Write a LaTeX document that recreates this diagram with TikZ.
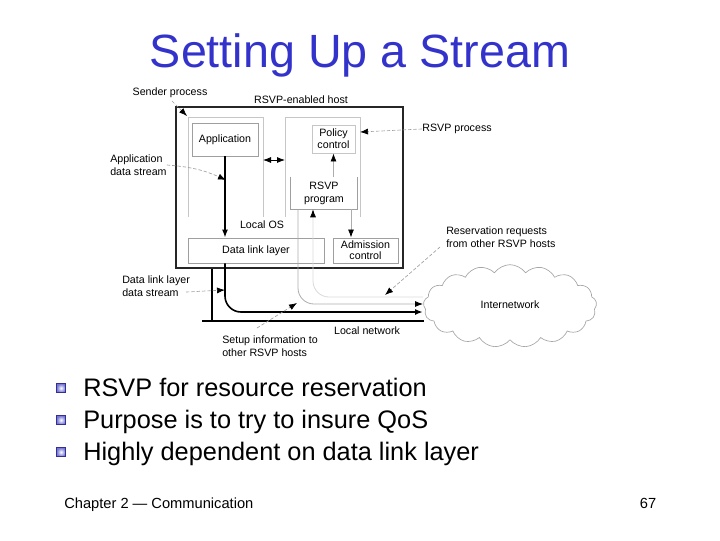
\documentclass[tikz,border=0pt]{standalone}
\usepackage{fontspec}
\setmainfont{Liberation Sans}
\usetikzlibrary{arrows.meta,shapes.symbols,fit}
\definecolor{titleblue}{RGB}{51,51,204}
\definecolor{bulblue}{RGB}{60,60,190}
\begin{document}
\begin{tikzpicture}[x=0.75pt,y=-0.75pt,
  >={Latex[length=6pt,width=4.5pt,color=black]},
  lbl/.style={font=\fontsize{8}{9.6}\selectfont, inner sep=0pt, align=center},
  lbll/.style={font=\fontsize{8}{9.6}\selectfont, inner sep=0pt, align=left},
  dbox/.style={draw=gray!75, line width=0.7pt, inner sep=0pt, font=\fontsize{8}{9.6}\selectfont, align=center},
  lbox/.style={draw=gray!45, line width=0.7pt, inner sep=0pt, font=\fontsize{8}{9.6}\selectfont, align=center},
  nobox/.style={inner sep=0pt, font=\fontsize{8}{9.6}\selectfont, align=center},
  tightbox/.style={inner sep=0pt, font=\fontsize{8}{8.8}\selectfont, align=center},
  region/.style={draw=gray!45, line width=0.7pt},
  flow/.style={->, draw=gray!65, line width=0.6pt},
  faint/.style={->, draw=gray!30, line width=0.6pt},
  leader/.style={->, draw=gray!75, dash pattern=on 2.5pt off 1.5pt, line width=0.5pt},
  stream/.style={->, draw=black, line width=1.2pt},
  bulletbox/.style={draw=bulblue!80!black, line width=0.8pt, inner color=white, outer color=bulblue!70, minimum size=6.5pt, inner sep=0pt},
  btext/.style={font=\fontsize{19}{22}\selectfont, anchor=base west, inner sep=0pt},
  foot/.style={font=\fontsize{11}{13}\selectfont, inner sep=0pt}
]
\useasboundingbox (0,0) rectangle (720,540);

% title
\node[font=\fontsize{35}{40}\selectfont, text=titleblue, anchor=base, inner sep=0pt] (title) at (360,67) {Setting Up a Stream};

% host box
\node[fit={(176,107)(403,268)}, inner sep=0pt, draw=gray!30!black, line width=1.5pt] (host) {};
\node[lbl] (hostlbl) at (301,100) {RSVP-enabled host};

% inner regions (open at bottom)
\draw[region] (188,217) |- (263,117) -- (263,217);
\draw[region] (285,217) |- (360,117) -- (360,217);
\coordinate (lreg) at (263,160);
\coordinate (rreg) at (285,160);
\coordinate (rregtop) at (360,132);

% boxes
\node[dbox, fit={(192,123)(258,156)}] (app) {};
\node[nobox] (applbl) at (app.center) {Application};
\node[lbox, fit={(312,125)(355,153)}] (pol) {};
\node[tightbox] (pollbl) at (pol.center) {Policy\\control};
\node[fit={(291,177)(357,209)}, inner sep=0pt] (rsvp) {};
\draw[dbox] (rsvp.north west) -- (rsvp.south west) -- (rsvp.south east) -- (rsvp.north east);
\node[nobox] (rsvplbl) at (rsvp.center) {RSVP\\program};
\node[dbox, fit={(188,238)(324,263)}] (dll) {};
\node[nobox] (dlllbl) at (dll.center) {Data link layer};
\node[dbox, fit={(333,238)(398,263)}] (adm) {};
\node[tightbox] (admlbl) at ([yshift=0.3pt]adm.center) {Admission\\control};
\node[lbl] (localos) at (262,225) {Local OS};

% internal arrows
\draw[<->, black, line width=0.6pt] (lreg) -- (rreg);
\draw[->, black, line width=0.9pt] (app.south) -- (app.south |- dll.north);
\draw[flow] (rsvp.north -| pol.south) -- (pol.south);
\draw[flow] (rsvp.south -| 351,0) -- (adm.north -| 351,0);

% network
\node[cloud, cloud puffs=17, cloud puff arc=110, aspect=2.2, draw=gray!70, line width=0.5pt, minimum width=130pt, minimum height=62pt, inner sep=0pt] (cloud) at (510,306) {};
\node[lbl] (inet) at (510,305) {Internetwork};
\coordinate (netlineL) at (202,321);
\coordinate (netlineR) at (424,321);
\draw[black, line width=2.2pt] (netlineL) -- (netlineR);
\node[lbl] (localnet) at (367,331) {Local network};
\draw[black, line width=2pt] (host.south -| 212,0) -- (netlineL -| 212,0);

\coordinate (inA) at (423,304);
\coordinate (inB) at (423,312);
\coordinate (inC) at (423,297);
\draw[stream, rounded corners=12pt] (app.south |- dll.south) |- (inB);
\draw[flow, rounded corners=12pt] (rsvp.south -| 298,0) |- (inA);
\draw[faint, rounded corners=12pt] (inC) -| (rsvp.south -| 313,0);

% annotations
\node[lbl] (sender) at (170,93) {Sender process};
\draw[leader] (172,101) -- (187,116);
\node[lbl] (rsvpproc) at (457,129) {RSVP process};
\draw[leader] (rsvpproc.west) -- (rregtop);
\node[lbll, anchor=west] (ads) at (110,165) {Application\\data stream};
\draw[leader] (ads.east) to[bend left=10] (226,180);
\node[lbll, anchor=west] (dlds) at (122,286) {Data link layer\\data stream};
\coordinate (dldsend) at (186,292);
\draw[leader] (dldsend) -- (225,290);
\node[lbll, anchor=west] (setup) at (222,346) {Setup information to\\other RSVP hosts};
\draw[leader] (257,328) -- (297,303);
\node[lbll, anchor=west] (resreq) at (446,237) {Reservation requests\\from other RSVP hosts};
\draw[leader] (440,247) -- (385,295);

% bullets
\node[bulletbox] (b1) at (61,388) {};
\node[btext] (t1) at (83,396) {RSVP for resource reservation};
\node[bulletbox] (b2) at (61,420) {};
\node[btext] (t2) at (83,428) {Purpose is to try to insure QoS};
\node[bulletbox] (b3) at (61,452) {};
\node[btext] (t3) at (83,460) {Highly dependent on data link layer};

% footer
\node[foot, anchor=base west] (chap) at (64,508) {Chapter 2 --- Communication};
\node[foot, anchor=base] (pg) at (648,508) {67};
\end{tikzpicture}
\end{document}
